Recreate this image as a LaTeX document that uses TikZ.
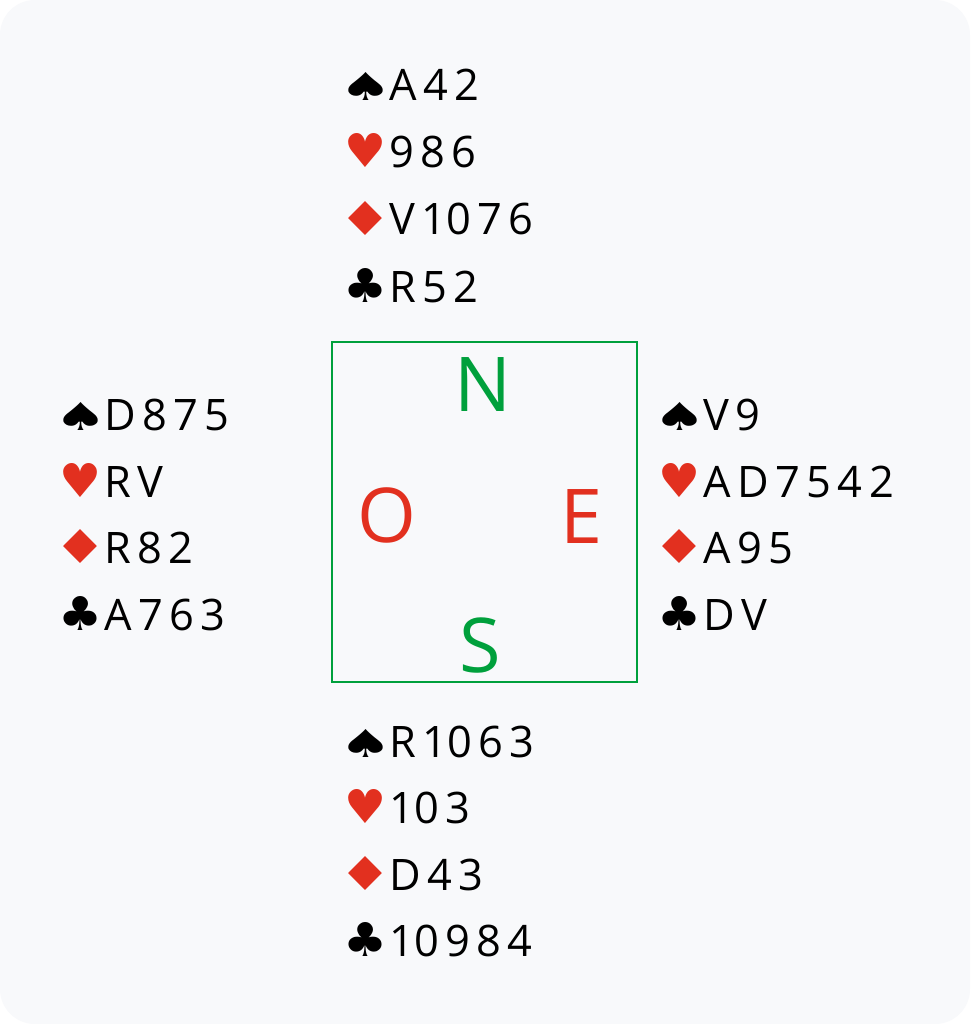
\documentclass[tikz,border=0pt]{standalone}
\usepackage{fontspec}
\usepackage{graphicx}
\setmainfont{Open Sans}
\newfontfamily\suitfont{DejaVu Sans}
\definecolor{bg}{HTML}{F8F9FB}
\definecolor{cred}{HTML}{E2301F}
\definecolor{cgreen}{HTML}{00A03C}
\newcommand\cs{\hspace{6.5pt}}
% #1 width, #2 height, #3 left bearing, #4 glyph
\newcommand\suitbox[4]{\makebox[41pt][l]{\hspace{-#3}\resizebox*{#1}{#2}{\suitfont #4}}}
\newcommand\mySpade{\suitbox{53pt}{28pt}{9pt}{♠}}
\newcommand\myHeart{{\color{cred}\suitbox{42pt}{34pt}{4pt}{♥}}}
\newcommand\myDiam{{\color{cred}\suitbox{54pt}{34pt}{10pt}{♦}}}
\newcommand\myClub{\suitbox{44pt}{34pt}{5pt}{♣}}
\begin{document}
\begin{tikzpicture}[x=1pt,y=-1pt,
  hand/.style={anchor=base west, inner sep=0pt, font=\fontsize{43.4}{52}\selectfont},
  dir/.style={anchor=base, inner sep=0pt, font=\fontsize{75.6}{80}\selectfont}]
\useasboundingbox (0,0) rectangle (970,1024);
\fill[white] (0,0) rectangle (970,1024);
\fill[bg, rounded corners=35pt] (0,0) rectangle (970,1024);
% table
\node[draw=cgreen, line width=1.5pt, minimum width=305pt, minimum height=340pt, inner sep=0pt] (table) at (484.5,512) {};
\node[dir, text=cgreen] (N) at (483,411) {N};
\node[dir, text=cred] (O) at (387,542) {O};
\node[dir, text=cred] (E) at (582,543) {E};
\node[dir, text=cgreen] (S) at (480,672) {S};
% North
\node[hand] (n1) at (348,101) {\mySpade A\cs 4\cs 2};
\node[hand] (n2) at (348,168) {\myHeart 9\cs 8\cs 6};
\node[hand] (n3) at (348,235) {\myDiam V\cs 10\cs 7\cs 6};
\node[hand] (n4) at (348,302) {\myClub R\cs 5\cs 2};
% West
\node[hand] (w1) at (63,430) {\mySpade D\cs 8\cs 7\cs 5};
\node[hand] (w2) at (63,497) {\myHeart R\cs V};
\node[hand] (w3) at (63,563) {\myDiam R\cs 8\cs 2};
\node[hand] (w4) at (63,630) {\myClub A\cs 7\cs 6\cs 3};
% East
\node[hand] (e1) at (662,430) {\mySpade V\cs 9};
\node[hand] (e2) at (662,497) {\myHeart A\cs D\cs 7\cs 5\cs 4\cs 2};
\node[hand] (e3) at (662,563) {\myDiam A\cs 9\cs 5};
\node[hand] (e4) at (662,630) {\myClub D\cs V};
% South
\node[hand] (s1) at (348,757) {\mySpade R\cs 10\cs 6\cs 3};
\node[hand] (s2) at (348,823) {\myHeart 10\cs 3};
\node[hand] (s3) at (348,890) {\myDiam D\cs 4\cs 3};
\node[hand] (s4) at (348,956) {\myClub 10\cs 9\cs 8\cs 4};
\end{tikzpicture}
\end{document}
